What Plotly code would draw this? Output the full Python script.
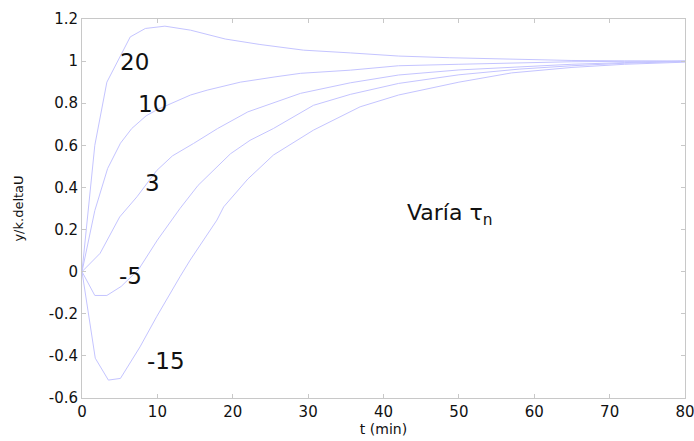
import plotly.graph_objects as go

# ---- data ----
t_20 = [0, 1.7, 3.3, 6.4, 8.4, 11.0, 14.4, 19.0, 23.6, 29.4, 35.6, 42.0, 48.8, 58.0, 65.0, 72.0, 80.0]
y_20 = [0, 0.60, 0.90, 1.115, 1.155, 1.166, 1.147, 1.105, 1.079, 1.052, 1.039, 1.024, 1.016, 1.008, 1.003, 1.001, 1.0]

t_10 = [0, 1.7, 3.4, 5.1, 6.6, 8.5, 10.0, 14.4, 16.6, 21.0, 25.6, 29.0, 35.6, 42.0, 50.0, 58.0, 65.0, 72.0, 80.0]
y_10 = [0, 0.29, 0.49, 0.61, 0.68, 0.74, 0.77, 0.839, 0.862, 0.90, 0.925, 0.942, 0.957, 0.978, 0.985, 0.992, 0.997, 0.999, 1.0]

t_3 = [0, 1.7, 2.4, 5.0, 7.3, 9.9, 12.0, 14.8, 18.0, 22.0, 29.0, 35.6, 42.0, 50.0, 58.0, 65.0, 72.0, 80.0]
y_3 = [0, 0.06, 0.087, 0.26, 0.356, 0.48, 0.55, 0.609, 0.68, 0.759, 0.847, 0.897, 0.934, 0.958, 0.973, 0.985, 0.993, 1.0]

t_m5 = [0, 1.7, 3.3, 5.2, 7.5, 10.0, 13.0, 15.4, 19.7, 22.3, 25.4, 30.7, 35.6, 42.0, 50.0, 58.0, 65.0, 72.0, 80.0]
y_m5 = [0, -0.113, -0.113, -0.07, 0.01, 0.15, 0.30, 0.41, 0.56, 0.624, 0.68, 0.79, 0.842, 0.894, 0.935, 0.962, 0.978, 0.99, 0.998]

t_m15 = [0, 1.76, 3.5, 5.1, 7.7, 9.9, 13.0, 14.35, 17.9, 18.8, 22.0, 25.4, 30.7, 36.9, 42.0, 50.0, 57.0, 65.0, 72.0, 80.0]
y_m15 = [0, -0.411, -0.515, -0.507, -0.357, -0.214, -0.024, 0.055, 0.245, 0.308, 0.44, 0.554, 0.672, 0.783, 0.839, 0.90, 0.944, 0.97, 0.985, 0.995]

series = [(t_20, y_20), (t_10, y_10), (t_3, y_3), (t_m5, y_m5), (t_m15, y_m15)]

label_text = ["20", "10", "3", "-5", "-15"]
label_x = [6.9, 9.3, 9.3, 6.4, 11.1]
label_y = [0.998, 0.796, 0.423, -0.021, -0.426]

x_ticks = [0, 10, 20, 30, 40, 50, 60, 70, 80]
y_ticks = [-0.6, -0.4, -0.2, 0, 0.2, 0.4, 0.6, 0.8, 1, 1.2]
y_tick_text = ["-0.6", "-0.4", "-0.2", "0", "0.2", "0.4", "0.6", "0.8", "1", "1.2"]

note_text = "Varía τ<sub>n</sub>"
note_x = 42.85
note_y = 0.27

# ---- figure ----
LINE = "#c4c4ff"
AX = "#c8c8c8"
FONT = "DejaVu Sans, Verdana, sans-serif"

fig = go.Figure()
for tx, ty in series:
    fig.add_trace(go.Scatter(x=tx, y=ty, mode="lines",
                             line=dict(color=LINE, width=1),
                             showlegend=False, hoverinfo="skip"))

for txt, lx, ly in zip(label_text, label_x, label_y):
    fig.add_annotation(x=lx, y=ly, text=txt, showarrow=False,
                       font=dict(family=FONT, size=23, color="#111"),
                       xanchor="center", yanchor="middle")

fig.add_annotation(x=note_x, y=note_y, text=note_text, showarrow=False,
                   font=dict(family=FONT, size=22, color="#111"),
                   xanchor="left", yanchor="middle")

fig.update_layout(
    width=694, height=441,
    margin=dict(l=82, r=9, t=19, b=43),
    paper_bgcolor="white", plot_bgcolor="white",
    font=dict(family=FONT, size=15, color="#111"),
    xaxis=dict(range=[0, 80], tickvals=x_ticks, ticks="inside", ticklen=4,
               tickcolor=AX, showline=True, linecolor=AX, linewidth=1, mirror="ticks",
               showgrid=False, zeroline=False, automargin=False,
               ticklabeloverflow="allow",
               title=dict(text="t (min)", font=dict(size=14), standoff=4),
               tickfont=dict(size=15)),
    yaxis=dict(range=[-0.6, 1.2], tickvals=y_ticks, ticktext=y_tick_text,
               ticks="inside", ticklen=4, tickcolor=AX, showline=True,
               linecolor=AX, linewidth=1, mirror="ticks",
               showgrid=False, zeroline=False, automargin=False,
               ticklabeloverflow="allow",
               title=dict(text="y/k.deltaU", font=dict(size=13), standoff=22),
               tickfont=dict(size=15)),
)

fig.write_html("out.html",
               config={"displayModeBar": False},
               post_script="document.body.style.margin='0';document.body.style.overflow='hidden';")
